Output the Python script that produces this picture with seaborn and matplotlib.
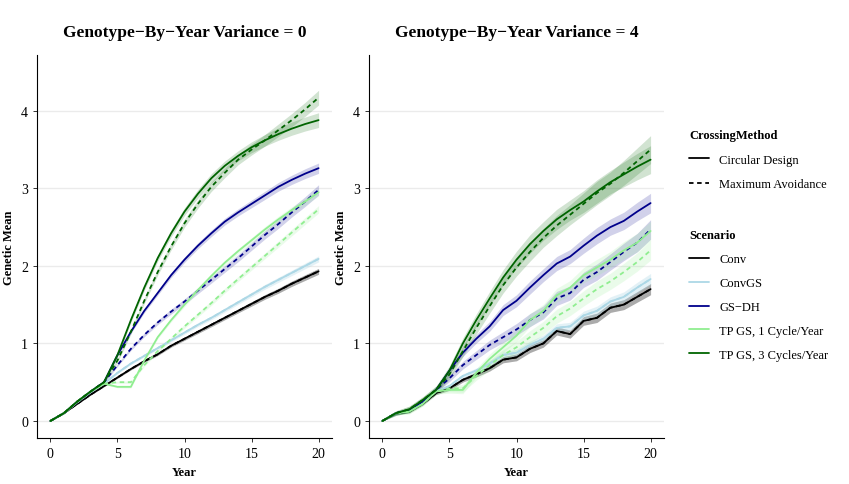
import numpy as np
import pandas as pd
import matplotlib
matplotlib.use("Agg")
import matplotlib.pyplot as plt
from matplotlib.lines import Line2D
import seaborn as sns

years = list(range(21))
scenarios = ["Conv", "ConvGS", "GS\u2212DH", "TP GS, 1 Cycle/Year", "TP GS, 3 Cycles/Year"]
methods = ["Circular Design", "Maximum Avoidance"]
colors = ["#000000", "#ADD8E6", "#00008B", "#90EE90", "#006400"]
panel_titles = ["Genotype\u2212By\u2212Year Variance = 0", "Genotype\u2212By\u2212Year Variance = 4"]

# GxY variance = 0
v0_conv_cd = [0, 0.10, 0.22, 0.34, 0.45, 0.56, 0.67, 0.77, 0.86, 0.97, 1.06, 1.15, 1.24, 1.33, 1.42, 1.51, 1.60, 1.68, 1.77, 1.85, 1.93]
v0_conv_ma = v0_conv_cd
v0_convgs_cd = [0, 0.10, 0.24, 0.37, 0.48, 0.62, 0.74, 0.84, 0.94, 1.04, 1.14, 1.24, 1.33, 1.43, 1.53, 1.63, 1.73, 1.82, 1.91, 2.00, 2.09]
v0_convgs_ma = v0_convgs_cd
v0_gsdh_cd = [0, 0.10, 0.25, 0.38, 0.50, 0.85, 1.15, 1.42, 1.65, 1.88, 2.08, 2.26, 2.42, 2.57, 2.69, 2.80, 2.91, 3.02, 3.11, 3.19, 3.26]
v0_gsdh_ma = [0, 0.10, 0.25, 0.38, 0.50, 0.72, 0.93, 1.11, 1.27, 1.41, 1.54, 1.68, 1.82, 1.96, 2.10, 2.25, 2.40, 2.54, 2.69, 2.83, 2.98]
v0_tp1_cd = [0, 0.10, 0.25, 0.38, 0.48, 0.44, 0.44, 0.78, 1.08, 1.30, 1.50, 1.69, 1.87, 2.04, 2.19, 2.33, 2.47, 2.60, 2.72, 2.83, 2.95]
v0_tp1_ma = [0, 0.10, 0.25, 0.38, 0.48, 0.50, 0.50, 0.72, 0.90, 1.06, 1.22, 1.37, 1.52, 1.68, 1.83, 1.98, 2.13, 2.28, 2.43, 2.58, 2.73]
v0_tp3_cd = [0, 0.10, 0.25, 0.38, 0.50, 0.85, 1.30, 1.72, 2.10, 2.42, 2.70, 2.93, 3.13, 3.29, 3.42, 3.53, 3.62, 3.70, 3.77, 3.83, 3.88]
v0_tp3_ma = [0, 0.10, 0.25, 0.38, 0.50, 0.78, 1.15, 1.55, 1.92, 2.25, 2.55, 2.80, 3.02, 3.20, 3.37, 3.50, 3.62, 3.75, 3.88, 4.02, 4.17]

# GxY variance = 4
v4_conv_cd = [0, 0.10, 0.12, 0.22, 0.36, 0.42, 0.53, 0.60, 0.68, 0.79, 0.82, 0.93, 1.00, 1.16, 1.12, 1.29, 1.33, 1.46, 1.50, 1.60, 1.70]
v4_conv_ma = v4_conv_cd
v4_convgs_cd = [0, 0.10, 0.13, 0.24, 0.38, 0.45, 0.58, 0.65, 0.74, 0.85, 0.88, 0.98, 1.06, 1.20, 1.22, 1.36, 1.42, 1.54, 1.60, 1.72, 1.83]
v4_convgs_ma = v4_convgs_cd
v4_gsdh_cd = [0, 0.10, 0.14, 0.25, 0.40, 0.65, 0.88, 1.06, 1.22, 1.43, 1.55, 1.72, 1.88, 2.03, 2.12, 2.26, 2.39, 2.50, 2.58, 2.70, 2.81]
v4_gsdh_ma = [0, 0.10, 0.14, 0.25, 0.40, 0.55, 0.72, 0.85, 0.98, 1.08, 1.18, 1.30, 1.40, 1.58, 1.65, 1.82, 1.92, 2.05, 2.18, 2.30, 2.47]
v4_tp1_cd = [0, 0.10, 0.12, 0.22, 0.38, 0.40, 0.40, 0.62, 0.80, 0.95, 1.10, 1.30, 1.42, 1.62, 1.72, 1.88, 1.98, 2.08, 2.20, 2.30, 2.45]
v4_tp1_ma = [0, 0.10, 0.12, 0.22, 0.38, 0.42, 0.42, 0.58, 0.72, 0.85, 0.95, 1.08, 1.20, 1.35, 1.45, 1.58, 1.70, 1.80, 1.92, 2.05, 2.20]
v4_tp3_cd = [0, 0.10, 0.15, 0.27, 0.40, 0.65, 1.00, 1.30, 1.58, 1.85, 2.08, 2.28, 2.45, 2.60, 2.72, 2.83, 2.96, 3.08, 3.18, 3.28, 3.37]
v4_tp3_ma = [0, 0.10, 0.15, 0.27, 0.40, 0.60, 0.90, 1.20, 1.48, 1.75, 1.98, 2.18, 2.36, 2.52, 2.66, 2.80, 2.94, 3.06, 3.20, 3.35, 3.50]

# ribbon half-widths (per year) and per-scenario scale
band0 = [0, 0.01, 0.01, 0.015, 0.02, 0.025, 0.03, 0.035, 0.04, 0.045, 0.05, 0.055, 0.06, 0.062, 0.065, 0.07, 0.075, 0.08, 0.085, 0.09, 0.095]
band4 = [0, 0.03, 0.04, 0.04, 0.05, 0.06, 0.07, 0.08, 0.09, 0.10, 0.11, 0.12, 0.12, 0.13, 0.13, 0.14, 0.15, 0.15, 0.16, 0.17, 0.18]
band_scale0 = [0.4, 0.4, 0.7, 0.5, 1.0]
band_scale4 = [0.4, 0.4, 0.7, 0.7, 1.0]

panels = [
    ([[v0_conv_cd, v0_conv_ma], [v0_convgs_cd, v0_convgs_ma], [v0_gsdh_cd, v0_gsdh_ma],
      [v0_tp1_cd, v0_tp1_ma], [v0_tp3_cd, v0_tp3_ma]], band0, band_scale0),
    ([[v4_conv_cd, v4_conv_ma], [v4_convgs_cd, v4_convgs_ma], [v4_gsdh_cd, v4_gsdh_ma],
      [v4_tp1_cd, v4_tp1_ma], [v4_tp3_cd, v4_tp3_ma]], band4, band_scale4),
]

sns.set_theme(style="white")
plt.rcParams["font.family"] = ["Liberation Serif", "DejaVu Serif"]
plt.rcParams["text.color"] = "black"
plt.rcParams["axes.labelcolor"] = "black"
plt.rcParams["axes.titlecolor"] = "black"

fig = plt.figure(figsize=(8.49, 4.85), dpi=100)
ax_pos = [[37 / 849, 1 - 439 / 485, 295 / 849, 383 / 485],
          [369 / 849, 1 - 439 / 485, 295 / 849, 383 / 485]]

palette = dict(zip(scenarios, colors))
dash_map = {"Circular Design": "", "Maximum Avoidance": (2.5, 2.0)}

for p, (series, band, scale) in enumerate(panels):
    ax = fig.add_axes(ax_pos[p])
    rows = []
    for s, name in enumerate(scenarios):
        for m, meth in enumerate(methods):
            vals = series[s][m]
            lo = [v - b * scale[s] for v, b in zip(vals, band)]
            hi = [v + b * scale[s] for v, b in zip(vals, band)]
            ax.fill_between(years, lo, hi, color=colors[s], alpha=0.18, linewidth=0)
            for y, v in zip(years, vals):
                rows.append({"Year": y, "Genetic Mean": v, "Scenario": name, "CrossingMethod": meth})
    df = pd.DataFrame(rows)
    sns.lineplot(data=df, x="Year", y="Genetic Mean", hue="Scenario", style="CrossingMethod",
                 palette=palette, dashes=dash_map, hue_order=scenarios, style_order=methods,
                 linewidth=1.3, errorbar=None, legend=False, ax=ax)

    ax.set_xlim(-1, 21)
    ax.set_ylim(-0.22, 4.72)
    ax.set_xticks([0, 5, 10, 15, 20])
    ax.set_yticks([0, 1, 2, 3, 4])
    ax.yaxis.grid(True, color="#EBEBEB", linewidth=1.0)
    ax.xaxis.grid(False)
    ax.set_axisbelow(True)
    for side in ["top", "right"]:
        ax.spines[side].set_visible(False)
    for side in ["left", "bottom"]:
        ax.spines[side].set_color("black")
        ax.spines[side].set_linewidth(0.8)
    ax.tick_params(axis="both", which="major", length=3, width=0.7, color="#333333",
                   labelsize=10, labelcolor="black", bottom=True, left=True, direction="out")
    ax.set_xlabel("Year", fontsize=9, fontweight="bold")
    ax.set_ylabel("Genetic Mean", fontsize=9, fontweight="bold")
    ax.set_title(panel_titles[p], fontsize=12.5, fontweight="bold", pad=14)

# legends
method_handles = [Line2D([], [], color="black", lw=1.3, linestyle="-"),
                  Line2D([], [], color="black", lw=1.3, linestyle=(0, (2.5, 2.0)))]
scen_handles = [Line2D([], [], color=c, lw=1.3) for c in colors]

leg1 = fig.legend(method_handles, methods, title="CrossingMethod", loc="upper left",
                  bbox_to_anchor=(678 / 849, 1 - 119 / 485), frameon=False, fontsize=9,
                  title_fontproperties={"weight": "bold", "size": 9}, handlelength=1.6,
                  labelspacing=1.0, alignment="left")
leg2 = fig.legend(scen_handles, scenarios, title="Scenario", loc="upper left",
                  bbox_to_anchor=(678 / 849, 1 - 219 / 485), frameon=False, fontsize=9,
                  title_fontproperties={"weight": "bold", "size": 9}, handlelength=1.6,
                  labelspacing=0.95, alignment="left")

fig.savefig("out.png", dpi=100)
